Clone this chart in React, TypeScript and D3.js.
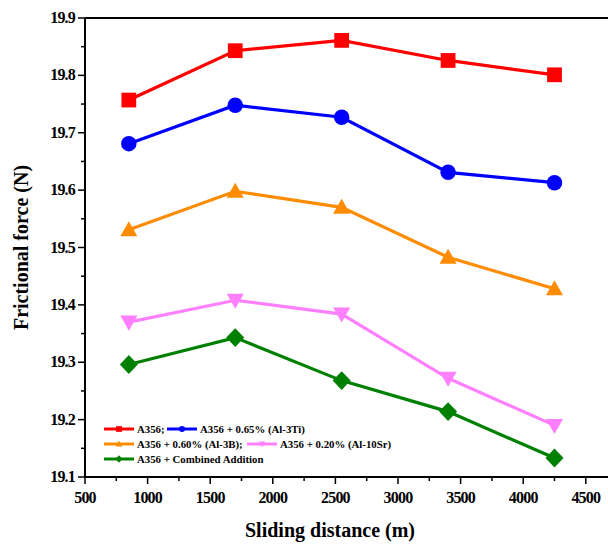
import React from "react";
import * as d3 from "d3";

const distances = [850, 1700, 2550, 3400, 4250];
const a356 = [19.757, 19.843, 19.861, 19.826, 19.801];
const a356Ti = [19.681, 19.748, 19.727, 19.631, 19.613];
const a356B = [19.531, 19.598, 19.57, 19.483, 19.428];
const a356Sr = [19.37, 19.408, 19.384, 19.272, 19.19];
const a356Comb = [19.296, 19.343, 19.268, 19.214, 19.133];

const xTicks = [500, 1000, 1500, 2000, 2500, 3000, 3500, 4000, 4500];
const yTicks = [19.1, 19.2, 19.3, 19.4, 19.5, 19.6, 19.7, 19.8, 19.9];

type Series = { name: string; color: string; symbol: "square" | "circle" | "up" | "down" | "diamond"; values: number[] };

const series: Series[] = [
  { name: "A356;", color: "#ff0000", symbol: "square", values: a356 },
  { name: "A356 + 0.65% (Al-3Ti)", color: "#0000ff", symbol: "circle", values: a356Ti },
  { name: "A356 + 0.60% (Al-3B);", color: "#ff8c00", symbol: "up", values: a356B },
  { name: "A356 + 0.20% (Al-10Sr)", color: "#ff80ff", symbol: "down", values: a356Sr },
  { name: "A356 + Combined Addition", color: "#008000", symbol: "diamond", values: a356Comb },
];

const W = 608;
const H = 544;
const M = { left: 85, top: 18, bottom: 477 };

const x = d3.scaleLinear().domain([500, 4700]).range([M.left, M.left + 4200 * 0.1252]);
const y = d3.scaleLinear().domain([19.1, 19.9]).range([M.bottom, M.top]);

const FONT = "Liberation Serif, Tinos, Times New Roman, DejaVu Serif, serif";

// size is the marker's nominal width in px
function Marker({ s, cx, cy, size }: { s: Series; cx: number; cy: number; size: number }) {
  const h = size / 2;
  switch (s.symbol) {
    case "square":
      return <rect x={cx - h * 0.82} y={cy - h * 0.82} width={size * 0.82} height={size * 0.82} fill={s.color} />;
    case "circle":
      return <circle cx={cx} cy={cy} r={h * 0.86} fill={s.color} />;
    case "up":
      return <path d={`M${cx},${cy - h * 0.95}L${cx + h * 0.95},${cy + h * 0.72}L${cx - h * 0.95},${cy + h * 0.72}Z`} fill={s.color} />;
    case "down":
      return <path d={`M${cx},${cy + h * 0.95}L${cx + h * 0.95},${cy - h * 0.72}L${cx - h * 0.95},${cy - h * 0.72}Z`} fill={s.color} />;
    case "diamond":
      return <path d={`M${cx},${cy - h * 1.05}L${cx + h},${cy}L${cx},${cy + h * 1.05}L${cx - h},${cy}Z`} fill={s.color} />;
  }
}

export default function App() {
  const line = d3
    .line<[number, number]>()
    .x((d) => x(d[0]))
    .y((d) => y(d[1]));

  const minorX = d3.range(750, 4700, 500);
  const minorY = d3.range(19.15, 19.9, 0.1);

  const legendRows: { items: Series[]; y: number }[] = [
    { items: [series[0], series[1]], y: 429 },
    { items: [series[2], series[3]], y: 444 },
    { items: [series[4]], y: 459 },
  ];

  return (
    <svg width={W} height={H} style={{ position: "absolute", left: 0, top: 0, background: "#fff", fontFamily: FONT }}>
      {/* frame */}
      <line x1={M.left} x2={W} y1={M.top} y2={M.top} stroke="#000" strokeWidth={2} />
      <line x1={M.left} x2={M.left} y1={M.top} y2={M.bottom} stroke="#000" strokeWidth={2} />
      <line x1={M.left} x2={W} y1={M.bottom} y2={M.bottom} stroke="#000" strokeWidth={2} />

      {/* x axis ticks */}
      {xTicks.map((t) => (
        <g key={t}>
          <line x1={x(t)} x2={x(t)} y1={M.bottom} y2={M.bottom + 7} stroke="#000" strokeWidth={1.5} />
          <text x={x(t)} y={M.bottom + 26} textAnchor="middle" style={{ fontFamily: FONT }} fontWeight="bold" fontSize={16} letterSpacing={-0.8}>
            {t}
          </text>
        </g>
      ))}
      {minorX.map((t) => (
        <line key={t} x1={x(t)} x2={x(t)} y1={M.bottom} y2={M.bottom + 4} stroke="#000" strokeWidth={1.5} />
      ))}

      {/* y axis ticks */}
      {yTicks.map((t) => (
        <g key={t}>
          <line x1={M.left - 7} x2={M.left} y1={y(t)} y2={y(t)} stroke="#000" strokeWidth={1.5} />
          <text x={M.left - 10} y={y(t) + 5} textAnchor="end" style={{ fontFamily: FONT }} fontWeight="bold" fontSize={16} letterSpacing={-0.8}>
            {t.toFixed(1)}
          </text>
        </g>
      ))}
      {minorY.map((t) => (
        <line key={t} x1={M.left - 4} x2={M.left} y1={y(t)} y2={y(t)} stroke="#000" strokeWidth={1.5} />
      ))}

      {/* axis titles */}
      <text x={330} y={537} textAnchor="middle" style={{ fontFamily: FONT }} fontWeight="bold" fontSize={20}>
        Sliding distance (m)
      </text>
      <text
        transform={`translate(28,${(M.top + M.bottom) / 2}) rotate(-90)`}
        textAnchor="middle"
        style={{ fontFamily: FONT }}
        fontWeight="bold"
        fontSize={20}
      >
        Frictional force (N)
      </text>

      {/* series */}
      {series.map((s) => {
        const pts = distances.map((d, i) => [d, s.values[i]] as [number, number]);
        return (
          <g key={s.name}>
            <path d={line(pts) || ""} fill="none" stroke={s.color} strokeWidth={3.2} />
            {pts.map((p, i) => (
              <Marker key={i} s={s} cx={x(p[0])} cy={y(p[1])} size={18} />
            ))}
          </g>
        );
      })}

      {/* legend */}
      {legendRows.map((row, ri) => {
        let cx = 104;
        return (
          <g key={ri}>
            {row.items.map((s) => {
              const x0 = cx;
              const textW = s.name.length * 5.0;
              cx = x0 + 33 + textW + 5;
              return (
                <g key={s.name}>
                  <line x1={x0} x2={x0 + 30} y1={row.y} y2={row.y} stroke={s.color} strokeWidth={3} />
                  <Marker s={s} cx={x0 + 15} cy={row.y} size={7} />
                  <text x={x0 + 33} y={row.y + 4} style={{ fontFamily: FONT }} fontWeight="bold" fontSize={10.8}>
                    {s.name}
                  </text>
                </g>
              );
            })}
          </g>
        );
      })}
    </svg>
  );
}
